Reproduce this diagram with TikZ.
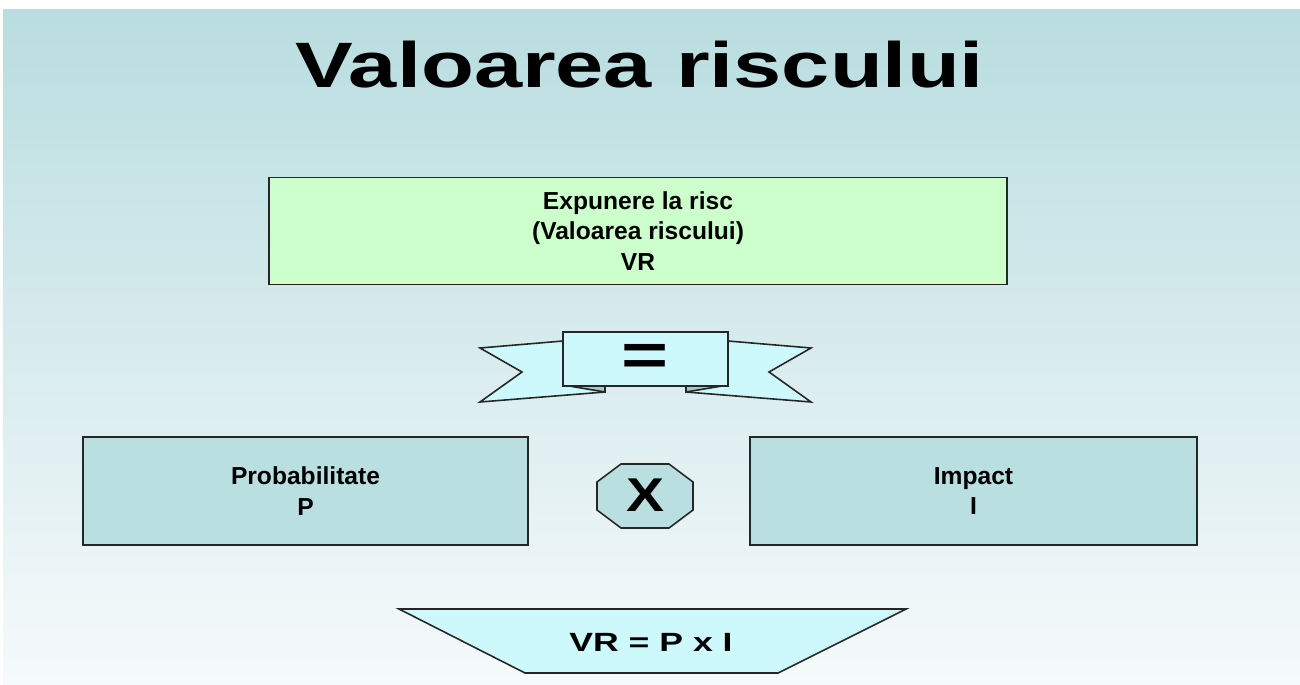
\documentclass[tikz,border=0pt]{standalone}
\usepackage{fontspec}
\setmainfont{Liberation Sans}
\newfontfamily\widesans[FakeStretch=1.35]{Liberation Sans}
\newfontfamily\midsans[FakeStretch=1.2]{Liberation Sans}
\usepackage{xcolor}
\definecolor{bgtop}{RGB}{185,221,224}
\definecolor{bgbot}{RGB}{246,250,251}
\definecolor{mint}{RGB}{204,255,204}
\definecolor{boxteal}{RGB}{185,223,225}
\definecolor{icecyan}{RGB}{206,249,252}
\definecolor{foldshade}{RGB}{165,200,202}
\tikzset{%
	title/.style    = {font=\widesans\bfseries\fontsize{36.5}{40}\selectfont}, % Heading
	block/.style    = {draw=black!85, line width=0.9pt, rectangle, align=center, font=\bfseries\fontsize{14}{17.5}\selectfont},
	shapeline/.style = {draw=black!85, line width=0.9pt, line join=miter}, % Drawn shapes
	sign/.style     = {font=\widesans\bfseries\fontsize{34}{34}\selectfont, inner sep=0pt}, % Operator
}

\begin{document}
\begin{tikzpicture}[x=0.02cm, y=-0.02cm]
	\useasboundingbox (0,0) rectangle (1300,685);
	\fill[white] (0,0) rectangle (1300,685);
	\fill[top color=bgtop, bottom color=bgbot] (3,10) rectangle (1300,685);

	\node[title, anchor=base] (head) at (640,88) {Valoarea riscului};

	\node[block, fill=mint, minimum width=14.76cm, minimum height=2.14cm] (vr) at (638,231) {Expunere la risc\\(Valoarea riscului)\\VR};

	% ribbon with the equals sign
	\filldraw[shapeline, fill=icecyan] (563,341) -- (480,348) -- (522,372) -- (480,402) -- (605,392) -- (605,385) -- (563,385) -- cycle;
	\filldraw[shapeline, fill=icecyan] (728,341) -- (811,348) -- (769,372) -- (811,402) -- (686,392) -- (686,385) -- (728,385) -- cycle;
	\filldraw[shapeline, fill=foldshade] (563,385) -- (605,392) -- (605,385) -- cycle;
	\filldraw[shapeline, fill=foldshade] (728,385) -- (686,392) -- (686,385) -- cycle;
	\filldraw[shapeline, fill=icecyan] (563,332) rectangle (728,386);
	\node[sign] (eq) at (645,360) {=};

	\node[block, fill=boxteal, minimum width=8.9cm, minimum height=2.16cm] (prob) at (305.5,491) {Probabilitate\\P};
	\node[block, fill=boxteal, minimum width=8.94cm, minimum height=2.16cm] (impact) at (973.5,491) {Impact\\I};

	% octagon
	\filldraw[shapeline, fill=boxteal] (645,496) +(-24,-32) -- +(24,-32) -- +(48,-14) -- +(48,14) -- +(24,32) -- +(-24,32) -- +(-48,14) -- +(-48,-14) -- cycle;
	\node[font=\midsans\bfseries\fontsize{27}{27}\selectfont, inner sep=0pt] (times) at (645,495) {X};

	% result
	\filldraw[shapeline, fill=icecyan] (399,609) -- (906,609) -- (778,673) -- (525,673) -- cycle;
	\node[font=\widesans\bfseries\fontsize{15}{18}\selectfont, inner sep=0pt] (formula) at (651,642.5) {VR = P x I};
\end{tikzpicture}
\end{document}
